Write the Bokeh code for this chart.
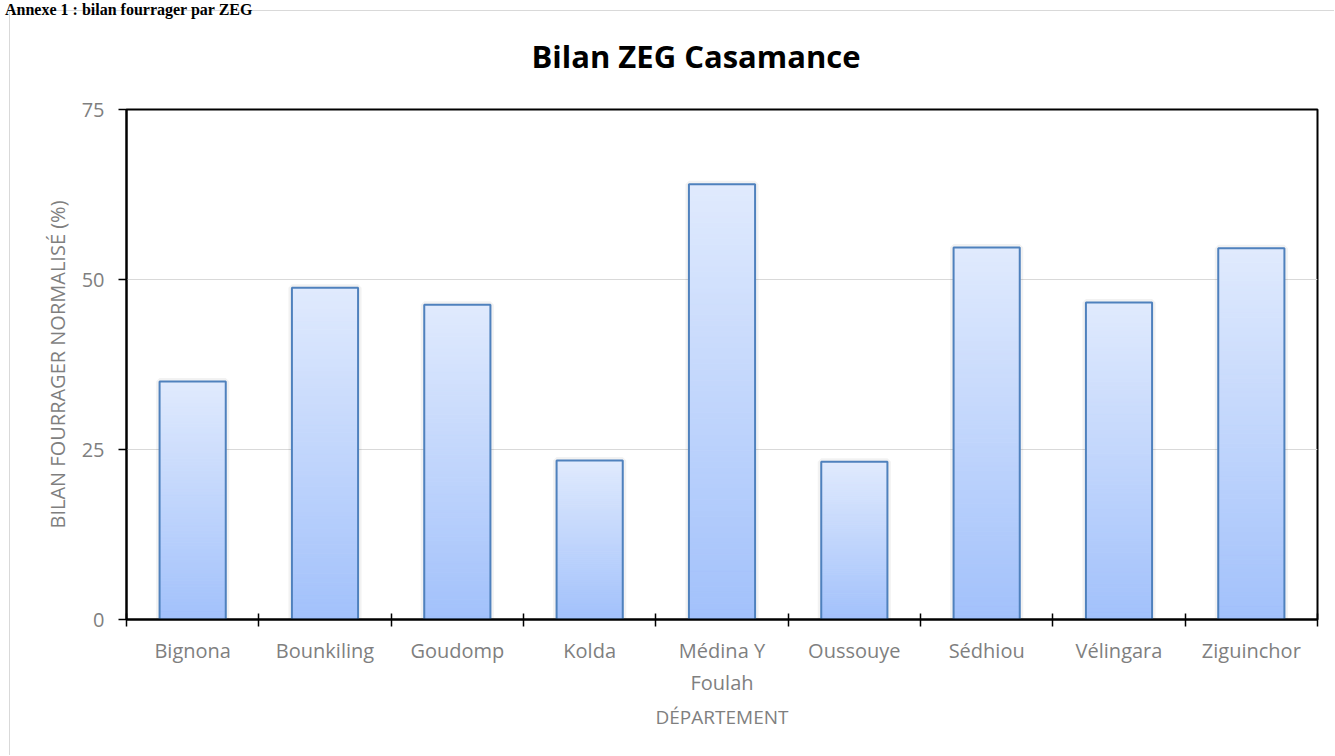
from bokeh.plotting import figure
from bokeh.models import FixedTicker, Range1d, Div
from bokeh.layouts import column
from bokeh.embed import file_html
from bokeh.resources import INLINE

heading = "Annexe 1 : bilan fourrager par ZEG"
chart_title = "Bilan ZEG Casamance"
departements = ["Bignona", "Bounkiling", "Goudomp", "Kolda", "Médina Y\nFoulah",
                "Oussouye", "Sédhiou", "Vélingara", "Ziguinchor"]
bilan = [35.0, 48.8, 46.3, 23.4, 64.0, 23.2, 54.7, 46.6, 54.6]
y_ticks = [0, 25, 50, 75]

W, H = 1325, 745
p = figure(width=W, height=H, output_backend="svg", toolbar_location=None,
           x_range=Range1d(0, len(departements)), y_range=Range1d(0, 75),
           min_border_left=116, min_border_right=18, min_border_top=98, min_border_bottom=137)
p.styles = {"margin-left": "9px", "margin-top": "-10px",
            "border-left": "1px solid #d9d9d9", "border-top": "1px solid #d9d9d9"}

centers = [i + 0.5 for i in range(len(departements))]
bw = 0.5

def hex2rgb(h):
    return tuple(int(h[i:i + 2], 16) for i in (1, 3, 5))
c_bot = hex2rgb("#a2c1fb")
c_top = hex2rgb("#e0eafd")
N = 80
L, R, B, T, C = [], [], [], [], []
for x, v in zip(centers, bilan):
    for k in range(N):
        f0, f1 = k / N, (k + 1) / N
        L.append(x - bw / 2); R.append(x + bw / 2)
        B.append(v * f0); T.append(v * f1)
        fm = (f0 + f1) / 2
        c = tuple(int(round(c_bot[j] + (c_top[j] - c_bot[j]) * fm)) for j in range(3))
        C.append("#%02x%02x%02x" % c)

p.vbar(x=centers, top=bilan, width=bw, bottom=0, fill_color=None,
       line_color="#000000", line_alpha=0.05, line_width=7)
p.quad(left=L, right=R, bottom=B, top=T, fill_color=C, line_color=C, line_width=1)
p.vbar(x=centers, top=bilan, width=bw, bottom=0, fill_color=None,
       line_color="#4f81bd", line_width=2)

p.outline_line_color = "#000000"
p.outline_line_width = 2
p.xgrid.grid_line_color = None
p.ygrid.grid_line_color = "#d9d9d9"
p.ygrid.grid_line_width = 1

FONT = "Open Sans"
GRAY = "#7f7f7f"

p.yaxis.ticker = FixedTicker(ticks=y_ticks)
p.yaxis.axis_line_color = "#000000"
p.yaxis.axis_line_width = 2
p.yaxis.major_tick_line_color = "#000000"
p.yaxis.major_tick_line_width = 1.5
p.yaxis.major_tick_in = 0
p.yaxis.major_tick_out = 8
p.yaxis.minor_tick_line_color = None
p.yaxis.major_label_standoff = 14
p.yaxis.major_label_text_font = FONT
p.yaxis.major_label_text_font_size = "20px"
p.yaxis.major_label_text_color = GRAY
p.yaxis.axis_label = "BILAN FOURRAGER NORMALISÉ (%)"
p.yaxis.axis_label_text_font = FONT
p.yaxis.axis_label_text_font_size = "20px"
p.yaxis.axis_label_text_font_style = "normal"
p.yaxis.axis_label_text_color = GRAY
p.yaxis.axis_label_standoff = 8

p.xaxis.ticker = FixedTicker(ticks=centers, minor_ticks=list(range(len(departements) + 1)))
p.xaxis.major_label_overrides = {c: d for c, d in zip(centers, departements)}
p.xaxis.axis_line_color = "#000000"
p.xaxis.axis_line_width = 2
p.xaxis.major_tick_line_color = None
p.xaxis.minor_tick_line_color = "#000000"
p.xaxis.minor_tick_line_width = 1.5
p.xaxis.minor_tick_in = 6
p.xaxis.minor_tick_out = 7
p.xaxis.major_tick_out = 7
p.xaxis.major_tick_in = 0
p.xaxis.major_label_standoff = 10
p.xaxis.major_label_text_font = FONT
p.xaxis.major_label_text_font_size = "20px"
p.xaxis.major_label_text_color = GRAY
p.xaxis.axis_label = "DÉPARTEMENT"
p.xaxis.axis_label_text_font = FONT
p.xaxis.axis_label_text_font_size = "19px"
p.xaxis.axis_label_text_font_style = "normal"
p.xaxis.axis_label_text_color = GRAY
p.xaxis.axis_label_standoff = 5

div = Div(text=('<div style="position:absolute; top:-3px; left:0px; white-space:nowrap; '
                'font-family:\'Liberation Serif\'; font-weight:bold; font-size:16px; '
                'color:#000; line-height:16px;">' + heading + '</div>'
                '<div style="position:absolute; top:34px; left:191px; width:1000px; '
                'text-align:center; white-space:nowrap; font-family:\'Open Sans\'; '
                'font-weight:bold; font-size:31px; line-height:34px; color:#000; z-index:5;">'
                + chart_title + '</div>'),
          width=400, height=10, styles={"overflow": "visible", "z-index": "5"})

layout = column(div, p, spacing=0)
open("out.html", "w").write(file_html(layout, INLINE))
